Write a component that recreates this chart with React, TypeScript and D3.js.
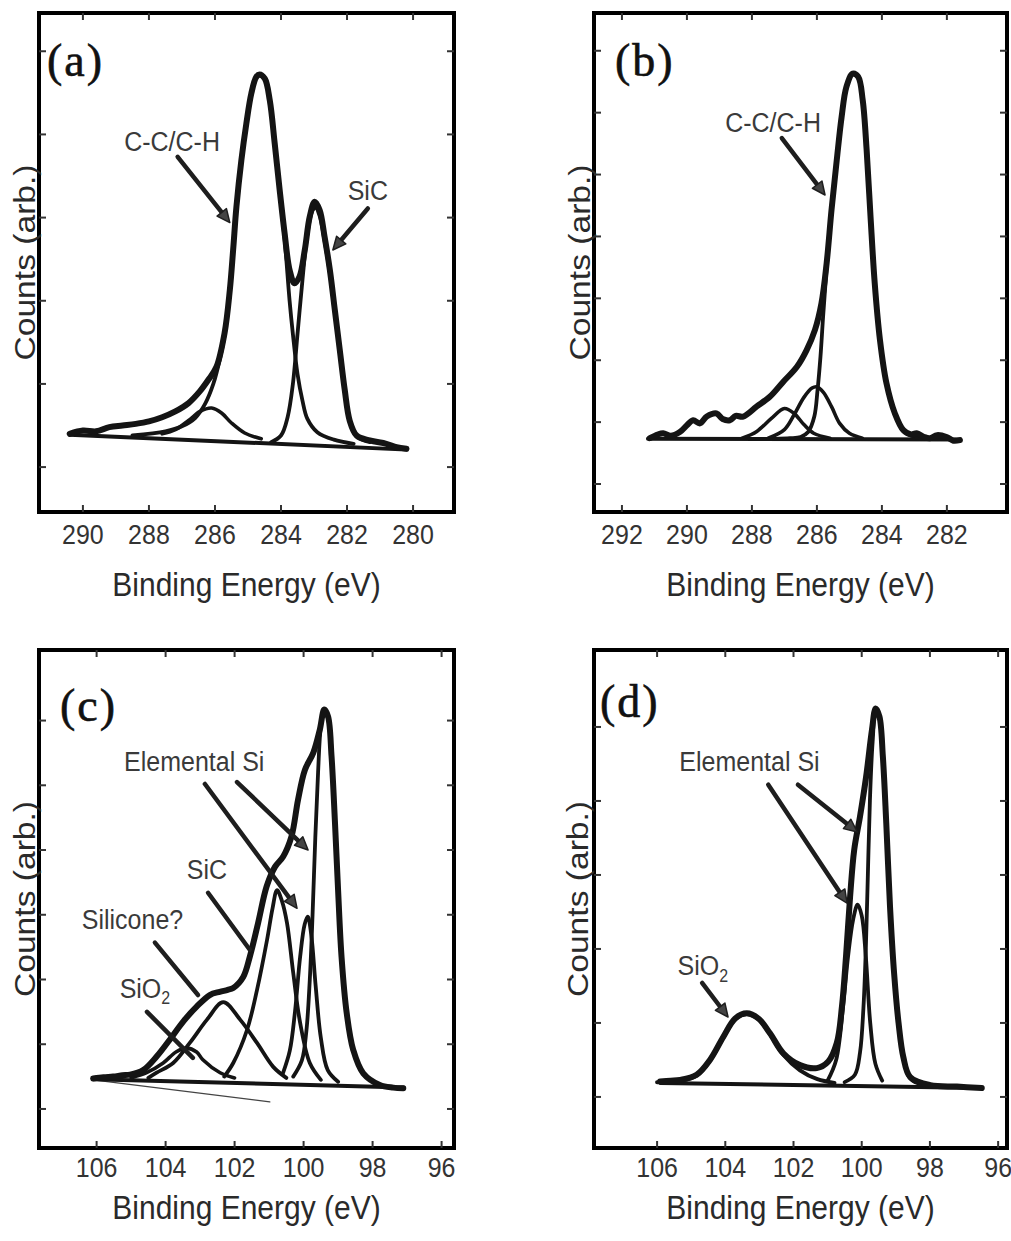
import * as d3 from 'd3';
import React from 'react';

type Pt = [number, number];

// ---- panel (a): C 1s, first sample ----
const aTicksX = [290, 288, 286, 284, 282, 280];
const aTicksY = [1, 2, 3, 4, 5, 6];
const aEnvelope: Pt[] = [
  [290.4, 1.40], [290.0, 1.44], [289.6, 1.43], [289.2, 1.48], [288.8, 1.50], [288.4, 1.52],
  [288.0, 1.55], [287.6, 1.60], [287.2, 1.67], [286.8, 1.77], [286.46, 1.91], [286.2, 2.05],
  [285.96, 2.2], [285.71, 2.61], [285.55, 3.13], [285.45, 3.61], [285.35, 4.13], [285.2, 4.69],
  [285.05, 5.13], [284.9, 5.49], [284.75, 5.69], [284.65, 5.72], [284.49, 5.67], [284.34, 5.41],
  [284.19, 4.89], [284.04, 4.33], [283.89, 3.81], [283.74, 3.37], [283.59, 3.21], [283.44, 3.29],
  [283.28, 3.61], [283.13, 4.01], [282.98, 4.19], [282.83, 4.09], [282.68, 3.77], [282.52, 3.37],
  [282.37, 2.89], [282.22, 2.41], [282.07, 1.93], [281.92, 1.56], [281.71, 1.38], [281.31, 1.32],
  [280.81, 1.28], [280.5, 1.24], [280.2, 1.22],
];
const aMain: Pt[] = [
  [288.5, 1.38], [287.5, 1.43], [287.0, 1.49], [286.6, 1.59], [286.3, 1.76], [286.05, 2.0],
  [285.85, 2.3], [285.71, 2.58], [285.55, 3.1], [285.45, 3.58], [285.35, 4.1], [285.2, 4.67],
  [285.05, 5.12], [284.9, 5.48], [284.75, 5.68], [284.65, 5.71], [284.49, 5.66], [284.34, 5.4],
  [284.19, 4.88], [284.04, 4.3], [283.89, 3.74], [283.74, 3.0], [283.64, 2.6], [283.5, 2.12],
  [283.35, 1.8], [283.2, 1.58], [282.9, 1.42], [282.4, 1.33], [281.8, 1.28],
];
const aSiC: Pt[] = [
  [284.3, 1.30], [284.0, 1.38], [283.8, 1.6], [283.64, 2.0], [283.5, 2.6], [283.35, 3.25],
  [283.2, 3.8], [283.05, 4.08], [282.95, 4.12], [282.83, 4.02], [282.68, 3.72], [282.52, 3.33],
  [282.37, 2.86], [282.22, 2.39], [282.07, 1.92], [281.92, 1.55], [281.71, 1.37], [281.3, 1.3],
];
const aCO: Pt[] = [
  [287.6, 1.40], [287.2, 1.45], [286.8, 1.56], [286.45, 1.67], [286.1, 1.71], [285.8, 1.65],
  [285.5, 1.53], [285.1, 1.41], [284.6, 1.34],
];
const aBase: Pt[] = [[290.4, 1.39], [280.2, 1.21]];

// ---- panel (b): C 1s, second sample ----
const bTicksX = [292, 290, 288, 286, 284, 282];
const bTicksY = [1, 2, 3, 4, 5, 6, 7, 8];
const bEnvelope: Pt[] = [
  [291.14, 1.74], [290.9, 1.80], [290.73, 1.82], [290.5, 1.78], [290.22, 1.84], [290.0, 1.95],
  [289.81, 2.03], [289.6, 1.98], [289.39, 2.09], [289.09, 2.14], [288.9, 2.05], [288.68, 2.03],
  [288.5, 2.1], [288.27, 2.09], [287.86, 2.25], [287.45, 2.41], [287.04, 2.65], [286.62, 2.89],
  [286.32, 3.16], [286.06, 3.49], [285.86, 3.92], [285.7, 4.57], [285.55, 5.43], [285.39, 6.23],
  [285.24, 6.93], [285.09, 7.42], [284.9, 7.63], [284.73, 7.58], [284.59, 7.2], [284.47, 6.4],
  [284.35, 5.32], [284.22, 4.24], [284.06, 3.33], [283.86, 2.63], [283.6, 2.14], [283.34, 1.87],
  [283.1, 1.8], [282.93, 1.82], [282.7, 1.76], [282.52, 1.74], [282.3, 1.79], [282.01, 1.76],
  [281.8, 1.7], [281.6, 1.71],
];
const bMain: Pt[] = [
  [287.3, 1.73], [286.83, 1.74], [286.5, 1.76], [286.27, 1.84], [286.08, 2.09], [285.98, 2.52],
  [285.89, 3.06], [285.81, 3.7], [285.7, 4.5], [285.55, 5.4], [285.39, 6.2], [285.24, 6.9],
  [285.09, 7.4], [284.9, 7.62], [284.73, 7.57], [284.59, 7.19], [284.47, 6.39], [284.35, 5.31],
  [284.22, 4.23], [284.06, 3.32], [283.86, 2.62], [283.6, 2.13], [283.34, 1.86], [283.0, 1.76],
  [282.6, 1.73],
];
const bCO: Pt[] = [
  [287.5, 1.74], [287.0, 1.88], [286.7, 2.12], [286.4, 2.4], [286.15, 2.55], [286.0, 2.57],
  [285.8, 2.48], [285.55, 2.25], [285.3, 1.98], [285.0, 1.82], [284.6, 1.74],
];
const bCO2: Pt[] = [
  [288.3, 1.74], [287.85, 1.85], [287.4, 2.06], [287.0, 2.22], [286.7, 2.14], [286.4, 1.96],
  [286.1, 1.82], [285.6, 1.74],
];
const bBase: Pt[] = [[291.2, 1.73], [281.6, 1.72]];

// ---- panel (c): Si 2p, first sample ----
const siTicksX = [106, 104, 102, 100, 98, 96];
const cTicksY = [1, 2, 3, 4, 5, 6, 7];
const cEnvelope: Pt[] = [
  [106.1, 1.47], [105.8, 1.49], [105.52, 1.5], [105.25, 1.52], [105.03, 1.53], [104.65, 1.6],
  [104.26, 1.81], [103.88, 2.07], [103.49, 2.35], [103.1, 2.58], [102.72, 2.76], [102.43, 2.81],
  [102.2, 2.84], [102.04, 2.87], [101.75, 3.04], [101.56, 3.35], [101.32, 3.87], [101.07, 4.44],
  [100.83, 4.74], [100.59, 4.9], [100.35, 5.21], [100.16, 5.78], [99.96, 6.24], [99.72, 6.5],
  [99.53, 6.86], [99.4, 7.17], [99.29, 7.06], [99.19, 6.45], [99.09, 5.42], [99.0, 4.38],
  [98.9, 3.35], [98.75, 2.48], [98.56, 1.91], [98.27, 1.55], [97.79, 1.37], [97.4, 1.33],
  [97.11, 1.32],
];
const cSi32: Pt[] = [
  [100.3, 1.5], [100.05, 1.75], [99.92, 2.2], [99.82, 3.0], [99.74, 4.0], [99.66, 5.2],
  [99.58, 6.2], [99.5, 6.9], [99.4, 7.15], [99.29, 7.05], [99.19, 6.44], [99.09, 5.41],
  [99.0, 4.37], [98.9, 3.34], [98.75, 2.47], [98.56, 1.9], [98.27, 1.54], [97.9, 1.4],
];
const cSi12: Pt[] = [
  [100.6, 1.55], [100.4, 1.9], [100.25, 2.5], [100.1, 3.35], [99.97, 3.85], [99.88, 3.97],
  [99.78, 3.7], [99.65, 2.9], [99.5, 2.1], [99.3, 1.6], [99.0, 1.42],
];
const cSiC: Pt[] = [
  [102.3, 1.5], [102.04, 1.71], [101.64, 2.22], [101.35, 2.84], [101.06, 3.61], [100.9, 4.1],
  [100.77, 4.38], [100.62, 4.2], [100.48, 3.87], [100.3, 3.1], [100.1, 2.33], [99.82, 1.71],
  [99.5, 1.45],
];
const cSilicone: Pt[] = [
  [104.5, 1.48], [104.26, 1.56], [103.78, 1.71], [103.3, 2.02], [102.8, 2.38], [102.33, 2.65],
  [101.84, 2.38], [101.35, 2.02], [100.88, 1.65], [100.5, 1.48],
];
const cSiO2: Pt[] = [
  [105.0, 1.48], [104.55, 1.56], [104.07, 1.71], [103.7, 1.88], [103.39, 1.94], [103.1, 1.88],
  [102.92, 1.76], [102.42, 1.56], [102.0, 1.48],
];
const cBase: Pt[] = [[106.1, 1.46], [97.1, 1.33]];
const cSlant: Pt[] = [[106.1, 1.45], [100.98, 1.11]];

// ---- panel (d): Si 2p, second sample ----
const dTicksY = [1, 2, 3, 4, 5, 6];
const dEnvelope: Pt[] = [
  [105.91, 1.21], [105.6, 1.22], [105.33, 1.23], [104.84, 1.3], [104.45, 1.5], [104.06, 1.81],
  [103.71, 2.06], [103.37, 2.13], [103.03, 2.06], [102.69, 1.86], [102.3, 1.59], [101.81, 1.43],
  [101.32, 1.39], [100.98, 1.48], [100.73, 1.73], [100.58, 2.22], [100.46, 2.9], [100.34, 3.71],
  [100.22, 4.34], [100.05, 4.79], [99.87, 5.33], [99.7, 5.96], [99.59, 6.25], [99.48, 6.14],
  [99.38, 5.6], [99.28, 4.7], [99.17, 3.57], [99.05, 2.67], [98.92, 2.0], [98.78, 1.54],
  [98.58, 1.27], [97.99, 1.16], [97.21, 1.14], [96.48, 1.12],
];
const dSi32: Pt[] = [
  [100.5, 1.2], [100.2, 1.3], [100.05, 1.6], [99.95, 2.2], [99.88, 3.0], [99.82, 4.0],
  [99.76, 5.0], [99.68, 5.8], [99.59, 6.2], [99.48, 6.12], [99.38, 5.58], [99.28, 4.68],
  [99.17, 3.55], [99.05, 2.65], [98.92, 1.98], [98.78, 1.52], [98.58, 1.25], [98.2, 1.16],
];
const dSi12: Pt[] = [
  [101.0, 1.22], [100.75, 1.5], [100.55, 2.2], [100.4, 2.9], [100.25, 3.4], [100.12, 3.6],
  [100.0, 3.45], [99.88, 2.9], [99.75, 2.0], [99.6, 1.45], [99.4, 1.22],
];
const dSiO2: Pt[] = [
  [106.0, 1.2], [105.33, 1.22], [104.84, 1.29], [104.45, 1.49], [104.06, 1.8], [103.71, 2.05],
  [103.37, 2.12], [103.03, 2.05], [102.69, 1.85], [102.3, 1.57], [101.81, 1.36], [101.3, 1.24],
  [100.8, 1.19],
];
const dBase: Pt[] = [[105.9, 1.19], [96.5, 1.12]];

const INK = '#141414';
const SANS = '"Liberation Sans", Arial, Helvetica, sans-serif';
const SERIF = '"Liberation Serif", "Times New Roman", serif';
const STRETCH = 1.12; // the scanned figure is a bit taller than wide

type Series = { data: Pt[]; width: number; straight?: boolean; color?: string };
type Note = {
  label: string;
  sub?: string;
  at: Pt;
  from?: Pt;
  to?: Pt;
  head?: boolean;
};
type Box = { x0: number; x1: number; y0: number; y1: number };

interface PanelProps {
  box: Box;
  xDomain: [number, number];
  yDomain: [number, number];
  xTicks: number[];
  yTicks: number[];
  series: Series[];
  notes: Note[];
  letter: string;
  letterAt: [number, number];
  tickLabelY: number;
  titleY: number;
  yTitleX: number;
}

const Panel = (p: PanelProps) => {
  const x = d3.scaleLinear().domain(p.xDomain).range([p.box.x0, p.box.x1]);
  const y = d3.scaleLinear().domain(p.yDomain).range([p.box.y1, p.box.y0]);
  const smooth = d3.line<Pt>().x(d => x(d[0])).y(d => y(d[1])).curve(d3.curveCatmullRom.alpha(0.5));
  const straight = d3.line<Pt>().x(d => x(d[0])).y(d => y(d[1]));
  const { x0, x1, y0, y1 } = p.box;
  const tl = 7;
  const midX = (x0 + x1) / 2;
  const midY = (y0 + y1) / 2;

  return (
    <g>
      {/* spectra and fitted components */}
      {p.series.map((s, i) => (
        <path
          key={i}
          d={(s.straight ? straight : smooth)(s.data) || ''}
          fill="none"
          stroke={s.color || INK}
          strokeWidth={s.width}
          strokeLinejoin="round"
          strokeLinecap="round"
        />
      ))}

      {/* frame */}
      <rect x={x0} y={y0} width={x1 - x0} height={y1 - y0} fill="none" stroke="#000" strokeWidth={4} />

      {/* x ticks, top and bottom */}
      {p.xTicks.map(t => (
        <g key={'x' + t}>
          <line x1={x(t)} x2={x(t)} y1={y1} y2={y1 - tl} stroke="#333" strokeWidth={2} />
          <line x1={x(t)} x2={x(t)} y1={y0} y2={y0 + tl} stroke="#333" strokeWidth={2} />
          <text
            transform={`translate(${x(t)},${p.tickLabelY}) scale(1,${STRETCH})`}
            textAnchor="middle"
            fontFamily={SANS}
            fontSize={25}
            fill="#333"
          >
            {t}
          </text>
        </g>
      ))}

      {/* y ticks, left and right (no labels) */}
      {p.yTicks.map(t => (
        <g key={'y' + t}>
          <line x1={x0} x2={x0 + tl} y1={y(t)} y2={y(t)} stroke="#333" strokeWidth={2} />
          <line x1={x1} x2={x1 - tl} y1={y(t)} y2={y(t)} stroke="#333" strokeWidth={2} />
        </g>
      ))}

      {/* axis titles */}
      <text
        transform={`translate(${midX},${p.titleY}) scale(1,${STRETCH})`}
        textAnchor="middle"
        fontFamily={SANS}
        fontSize={30}
        fill="#2a2a2a"
      >
        Binding Energy (eV)
      </text>
      <text
        transform={`translate(${p.yTitleX},${midY}) rotate(-90) scale(${STRETCH},1)`}
        textAnchor="middle"
        fontFamily={SANS}
        fontSize={30}
        fill="#2a2a2a"
      >
        Counts (arb.)
      </text>

      {/* panel letter */}
      <text
        x={p.letterAt[0]}
        y={p.letterAt[1]}
        fontFamily={SERIF}
        fontSize={46}
        letterSpacing={2}
        fill="#111"
        stroke="#111"
        strokeWidth={0.6}
      >
        {p.letter}
      </text>

      {/* peak labels and pointers */}
      {p.notes.map((n, i) => {
        let arrow = null;
        if (n.from && n.to) {
          const ax = x(n.from[0]);
          const ay = y(n.from[1]);
          const bx = x(n.to[0]);
          const by = y(n.to[1]);
          const ang = Math.atan2(by - ay, bx - ax);
          const hl = 13;
          const hw = 6;
          const sx = n.head ? bx - Math.cos(ang) * hl * 0.8 : bx;
          const sy = n.head ? by - Math.sin(ang) * hl * 0.8 : by;
          const bxl = bx - Math.cos(ang) * hl;
          const byl = by - Math.sin(ang) * hl;
          const px = -Math.sin(ang) * hw;
          const py = Math.cos(ang) * hw;
          arrow = (
            <g>
              <line x1={ax} y1={ay} x2={sx} y2={sy} stroke="#1e1e1e" strokeWidth={4.5} strokeLinecap="round" />
              {n.head && (
                <path
                  d={`M${bx},${by} L${bxl + px},${byl + py} L${bxl - px},${byl - py} Z`}
                  fill="#444"
                  stroke="#1e1e1e"
                  strokeWidth={1.5}
                  strokeLinejoin="round"
                />
              )}
            </g>
          );
        }
        return (
          <g key={i}>
            {arrow}
            <text
              transform={`translate(${x(n.at[0])},${y(n.at[1])}) scale(1,${STRETCH})`}
              textAnchor="middle"
              fontFamily={SANS}
              fontSize={25}
              fill="#3a3a3a"
            >
              {n.label}
              {n.sub && (
                <tspan fontSize={16} dy={6}>
                  {n.sub}
                </tspan>
              )}
            </text>
          </g>
        );
      })}
    </g>
  );
};

const App = () => {
  return (
    <svg
      width={1011}
      height={1241}
      style={{ position: 'absolute', left: 0, top: 0, background: '#fff', display: 'block' }}
    >
      <rect x={0} y={0} width={1011} height={1241} fill="#fff" />

      <Panel
        box={{ x0: 39, x1: 454, y0: 13, y1: 512 }}
        xDomain={[291.33, 278.76]}
        yDomain={[0.46, 6.46]}
        xTicks={aTicksX}
        yTicks={aTicksY}
        series={[
          { data: aBase, width: 4, straight: true },
          { data: aCO, width: 3.6 },
          { data: aSiC, width: 3.8 },
          { data: aMain, width: 3.8 },
          { data: aEnvelope, width: 6 },
        ]}
        notes={[
          { label: 'C-C/C-H', at: [287.3, 4.8], from: [287.13, 4.73], to: [285.55, 3.94], head: true },
          { label: 'SiC', at: [281.37, 4.21], from: [281.37, 4.11], to: [282.43, 3.61], head: true },
        ]}
        letter="(a)"
        letterAt={[47, 76]}
        tickLabelY={544}
        titleY={596}
        yTitleX={35}
      />

      <Panel
        box={{ x0: 594, x1: 1007, y0: 13, y1: 512 }}
        xDomain={[292.86, 280.15]}
        yDomain={[0.548, 8.61]}
        xTicks={bTicksX}
        yTicks={bTicksY}
        series={[
          { data: bBase, width: 4, straight: true },
          { data: bCO2, width: 3.6 },
          { data: bCO, width: 3.6 },
          { data: bMain, width: 3.8 },
          { data: bEnvelope, width: 6 },
        ]}
        notes={[
          { label: 'C-C/C-H', at: [287.35, 6.69], from: [287.08, 6.59], to: [285.75, 5.67], head: true },
        ]}
        letter="(b)"
        letterAt={[615, 76]}
        tickLabelY={544}
        titleY={596}
        yTitleX={590}
      />

      <Panel
        box={{ x0: 39, x1: 454, y0: 650, y1: 1148 }}
        xDomain={[107.67, 95.64]}
        yDomain={[0.397, 8.09]}
        xTicks={siTicksX}
        yTicks={cTicksY}
        series={[
          { data: cSlant, width: 1.4, straight: true, color: '#444' },
          { data: cBase, width: 4, straight: true },
          { data: cSiO2, width: 3.6 },
          { data: cSilicone, width: 3.8 },
          { data: cSiC, width: 3.8 },
          { data: cSi12, width: 3.8 },
          { data: cSi32, width: 3.8 },
          { data: cEnvelope, width: 6 },
        ]}
        notes={[
          { label: 'Elemental Si', at: [103.17, 6.22], from: [101.93, 6.05], to: [99.87, 5.0], head: true },
          { label: '', at: [103.17, 6.22], from: [102.86, 6.02], to: [100.19, 4.1], head: true },
          { label: 'SiC', at: [102.8, 4.55], from: [102.77, 4.34], to: [101.56, 3.46] },
          { label: 'Silicone?', at: [104.96, 3.78], from: [104.31, 3.57], to: [103.06, 2.76] },
          { label: 'SiO', sub: '2', at: [104.6, 2.72], from: [104.54, 2.5], to: [103.21, 1.79] },
        ]}
        letter="(c)"
        letterAt={[60, 721]}
        tickLabelY={1177}
        titleY={1219}
        yTitleX={35}
      />

      <Panel
        box={{ x0: 594, x1: 1007, y0: 650, y1: 1148 }}
        xDomain={[107.85, 95.74]}
        yDomain={[0.31, 7.04]}
        xTicks={siTicksX}
        yTicks={dTicksY}
        series={[
          { data: dBase, width: 4, straight: true },
          { data: dSiO2, width: 4 },
          { data: dSi12, width: 3.8 },
          { data: dSi32, width: 3.8 },
          { data: dEnvelope, width: 6 },
        ]}
        notes={[
          { label: 'Elemental Si', at: [103.29, 5.41], from: [101.87, 5.22], to: [100.13, 4.58], head: true },
          { label: '', at: [103.29, 5.41], from: [102.74, 5.22], to: [100.43, 3.62], head: true },
          { label: 'SiO', sub: '2', at: [104.66, 2.65], from: [104.68, 2.54], to: [103.92, 2.08], head: true },
        ]}
        letter="(d)"
        letterAt={[600, 717]}
        tickLabelY={1177}
        titleY={1219}
        yTitleX={588}
      />
    </svg>
  );
};

export default App;
